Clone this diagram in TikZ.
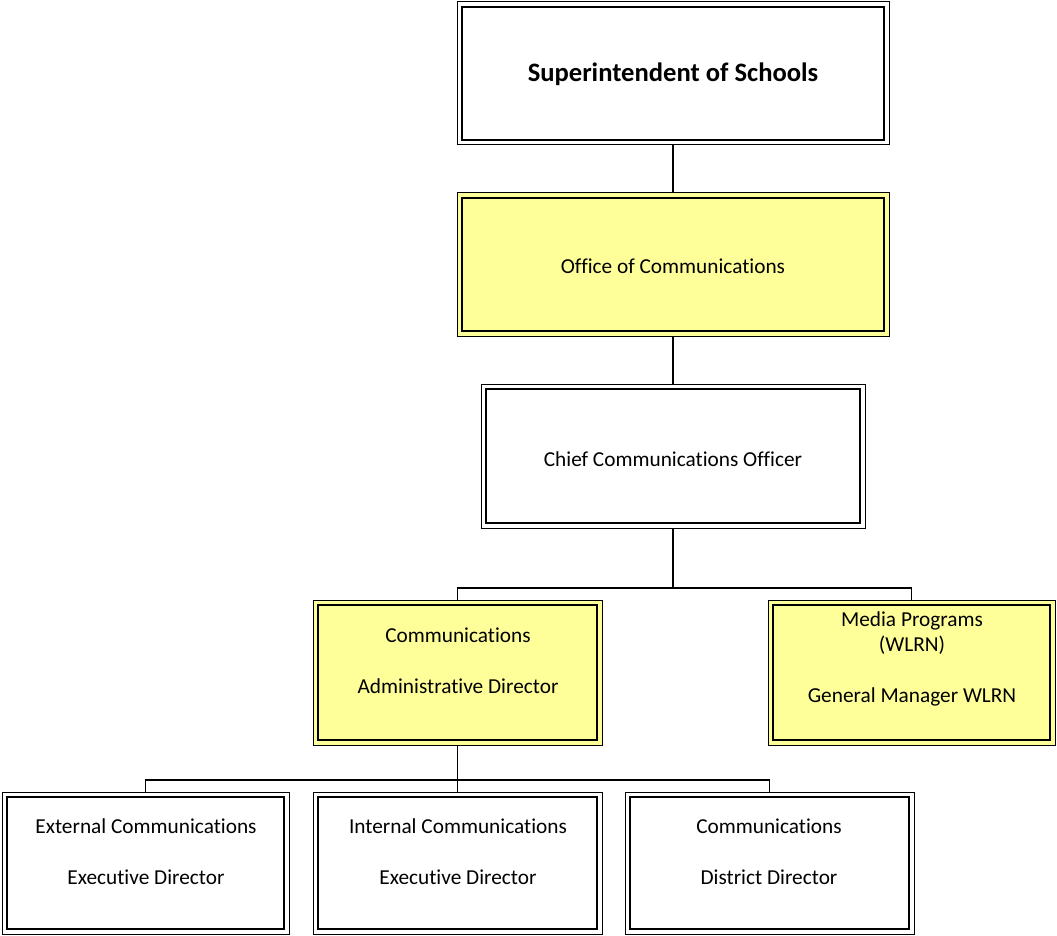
\documentclass[tikz,border=0pt]{standalone}
\usepackage{fontspec}
\setmainfont{Carlito}[Ligatures=NoCommon]
\definecolor{paleyellow}{RGB}{255,255,153}
\begin{document}
\begin{tikzpicture}[x=1pt,y=-1pt,
  box/.style={draw=black, line width=1pt, inner sep=0pt, outer sep=0pt},
  innerline/.style={draw=black, line width=1.4pt},
  lbl/.style={font=\fontsize{21.3}{25}\selectfont, inner sep=0pt, align=center},
  title/.style={font=\fontsize{26.6}{32}\selectfont\bfseries, inner sep=0pt},
  link/.style={draw=black, line width=1.6pt}]
\useasboundingbox (0,0) rectangle (1057,936);

% double-ruled box: name, left, top, right, bottom, fill
\newcommand\orgbox[6]{%
  \node[box, fill=#6, minimum width={#4-#2}, minimum height={#5-#3}]
    (#1) at ({(#2+#4)/2},{(#3+#5)/2}) {};
  \draw[innerline] ([shift={(5,5)}]#1.north west) rectangle ([shift={(-5,-5)}]#1.south east);
}

\orgbox{sup}{457}{2}{889}{145}{white}
\orgbox{office}{457}{193}{889}{336}{paleyellow}
\orgbox{chief}{481}{384}{865}{528}{white}
\orgbox{admin}{313}{600}{602}{745}{paleyellow}
\orgbox{media}{768}{600}{1055}{745}{paleyellow}
\orgbox{ext}{2}{792}{289}{934}{white}
\orgbox{int}{313}{792}{602}{934}{white}
\orgbox{dist}{625}{792}{914}{934}{white}

% labels
\node[title] (sup-t) at (673,74) {Superintendent of Schools};
\node[lbl] (office-t) at (673,266) {Office of Communications};
\node[lbl] (chief-t) at (673,459) {Chief Communications Officer};
\node[lbl] (admin-t1) at (458,635) {Communications};
\node[lbl] (admin-t2) at (458,686) {Administrative Director};
\node[lbl] (media-t1) at (912,621) {Media Programs};
\node[lbl] (media-t2) at (912,645) {(WLRN)};
\node[lbl] (media-t3) at (912,697) {General Manager WLRN};
\node[lbl] (ext-t1) at (146,826) {External Communications};
\node[lbl] (ext-t2) at (146,877) {Executive Director};
\node[lbl] (int-t1) at (458,826) {Internal Communications};
\node[lbl] (int-t2) at (458,877) {Executive Director};
\node[lbl] (dist-t1) at (769,826) {Communications};
\node[lbl] (dist-t2) at (769,877) {District Director};

% connectors
\coordinate (busA) at (chief.south |- 0,588);
\coordinate (busB) at (admin.south |- 0,780);
\draw[link] (sup.south) -- (office.north);
\draw[link] (office.south) -- (chief.north);
\draw[link] (chief.south) -- (busA);
\draw[link] (admin.north) |- (busA);
\draw[link] (media.north) |- (busA);
\draw[link] (admin.south) -- (busB);
\draw[link] (ext.north) |- (busB);
\draw[link] (int.north) -- (busB);
\draw[link] (dist.north) |- (busB);
\end{tikzpicture}
\end{document}
